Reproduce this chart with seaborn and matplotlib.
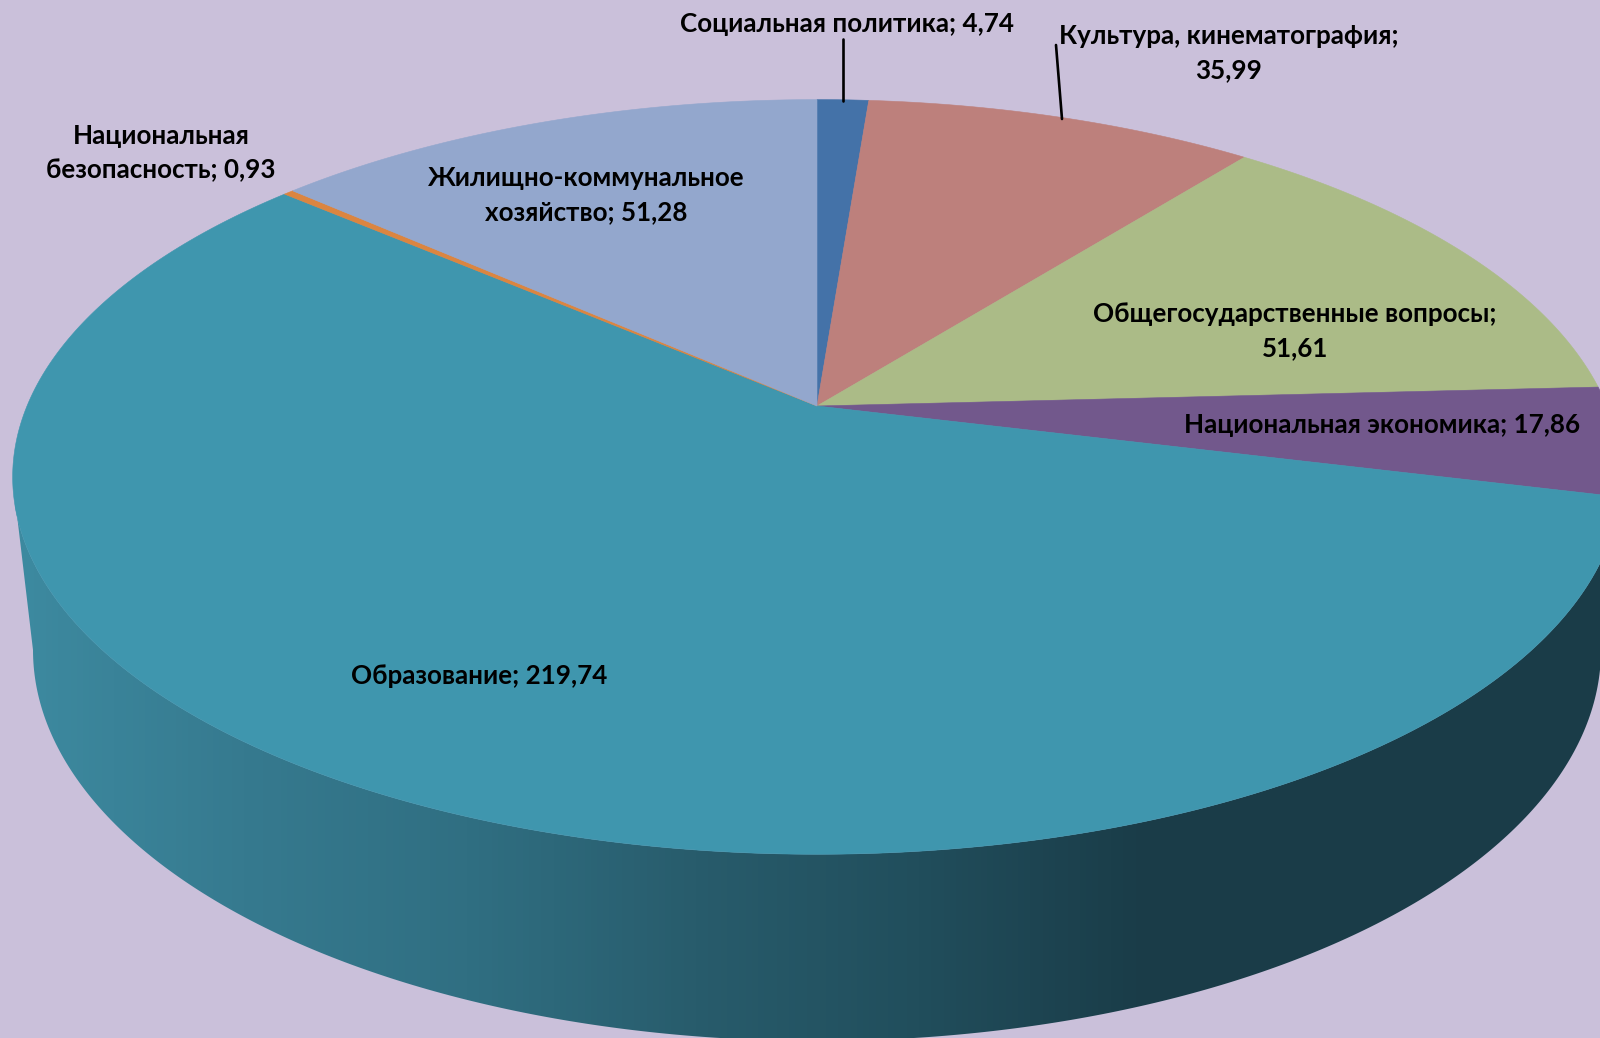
import numpy as np
import matplotlib
matplotlib.use("Agg")
import matplotlib.pyplot as plt
import seaborn as sns
from matplotlib.patches import Polygon

# budget items, clockwise from 12 o'clock
categories = ["Социальная политика", "Культура, кинематография", "Общегосударственные вопросы",
              "Национальная экономика", "Образование", "Национальная\nбезопасность",
              "Жилищно-коммунальное\nхозяйство"]
values = [4.74, 35.99, 51.61, 17.86, 219.74, 0.93, 51.28]
value_seps = ["; ", ";\n", ";\n", "; ", "; ", "; ", "; "]
colors = ["#4472A8", "#BD807C", "#ABBB87", "#72588C", "#3F96AE", "#DB8540", "#93A7CD"]
label_pos = [(847, 24), (1229, 53), (1295, 331), (1382, 425), (479, 676), (161, 153), (586, 195)]

BG = "#CAC0DA"
side_stops = ["#3D8AA0", "#367A8F", "#306F82", "#285C6C", "#214E5C", "#1A3C48", "#1A3C48", "#1A3C48"]

sns.set_theme(style="white")
plt.rcParams["font.family"] = ["Lato", "Open Sans", "DejaVu Sans"]


def project(x, y):
    # perspective of the unit circle onto the picture, in pixels
    w = 1 + 0.188 * y
    return 817 + 790 * x / w, 406 - 364 * y / w


fig, ax = plt.subplots(figsize=(16, 10.38), dpi=100)
fig.patch.set_facecolor(BG)
ax.set_position([0, 0, 1, 1])
ax.set_facecolor(BG)

wedges, _ = ax.pie(values, colors=sns.color_palette(colors), startangle=90, counterclock=False)
ax.set_aspect("auto")

# side wall: front half of the top rim joined to the front half of the base
t = np.radians(np.linspace(-190, 10, 400))
top_x, top_y = project(np.cos(t), np.sin(t))
front = top_y >= 477
t2 = np.radians(np.linspace(0, 180, 300))
base_x = 817 + 784 * np.cos(t2)
base_y = 650 + 391 * np.sin(t2)
wall = np.column_stack([np.r_[top_x[front], base_x], np.r_[top_y[front], base_y]])
wall_patch = Polygon(wall, closed=True, transform=ax.transData, facecolor="none", edgecolor="none")
ax.add_patch(wall_patch)

cmap = sns.blend_palette(side_stops, n_colors=256, as_cmap=True)
img = ax.imshow(np.linspace(0, 1, 512).reshape(1, -1), cmap=cmap, extent=(15, 1600, 1038, 0),
                aspect="auto", zorder=1)
img.set_clip_path(wall_patch)
ax.set_xlim(0, 1600)
ax.set_ylim(1038, 0)

# top face, each slice taken from the pie wedge and put in perspective
for w, c in zip(wedges, colors):
    a = np.radians(np.linspace(w.theta1, w.theta2, 300))
    xs, ys = project(np.r_[0, np.cos(a)], np.r_[0, np.sin(a)])
    ax.fill(xs, ys, color=c, lw=0.4, zorder=2)
    w.remove()

# leader lines
ax.plot([843, 843], [39, 101], color="black", lw=1.9, zorder=3)
ax.plot([1056, 1062], [45, 119], color="black", lw=1.9, zorder=3)

for name, val, sep, (x, y) in zip(categories, values, value_seps, label_pos):
    text = name + sep + str(val).replace(".", ",")
    ax.text(x, y, text, ha="center", va="center", fontsize=18.7, fontweight="bold",
            color="black", linespacing=1.47, zorder=4)

fig.savefig("out.png", dpi=100, facecolor=BG)
